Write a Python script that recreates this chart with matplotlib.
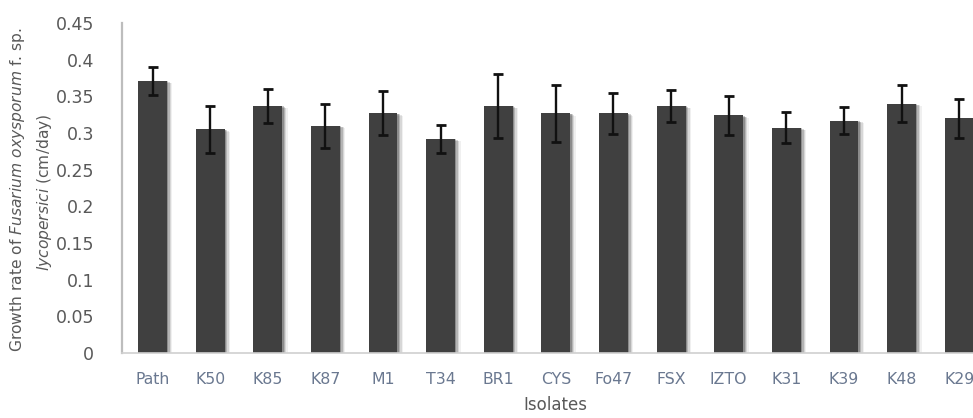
import matplotlib
matplotlib.use("Agg")
import matplotlib.pyplot as plt
import matplotlib.patheffects as pe
import numpy as np

isolates = ["Path", "K50", "K85", "K87", "M1", "T34", "BR1", "CYS",
            "Fo47", "FSX", "IZTO", "K31", "K39", "K48", "K29"]
growth_rate = [0.371, 0.305, 0.337, 0.310, 0.327, 0.292, 0.337, 0.327,
               0.327, 0.337, 0.324, 0.307, 0.317, 0.340, 0.320]
std_err = [0.019, 0.032, 0.023, 0.030, 0.030, 0.019, 0.044, 0.039,
           0.028, 0.022, 0.027, 0.021, 0.018, 0.025, 0.027]
y_ticks = [0, 0.05, 0.1, 0.15, 0.2, 0.25, 0.3, 0.35, 0.4, 0.45]
y_tick_labels = ["0", "0.05", "0.1", "0.15", "0.2", "0.25", "0.3", "0.35", "0.4", "0.45"]

plt.rcParams["font.family"] = ["DejaVu Sans"]
plt.rcParams["mathtext.fontset"] = "dejavusans"

W, H = 973, 418
fig = plt.figure(figsize=(W / 100, H / 100), dpi=100)
# axes runs past the right edge of the canvas, so the last bar is clipped
ax = fig.add_axes([122 / W, 65 / H, 866 / W, 330 / H])

x = np.arange(len(isolates))
shadow = [
    pe.SimplePatchShadow(offset=(4.0, -1.8), shadow_rgbFace="#000000", alpha=0.06),
    pe.SimplePatchShadow(offset=(3.0, -1.3), shadow_rgbFace="#000000", alpha=0.10),
    pe.SimplePatchShadow(offset=(2.0, -0.8), shadow_rgbFace="#000000", alpha=0.16),
    pe.SimplePatchShadow(offset=(1.0, -0.4), shadow_rgbFace="#000000", alpha=0.22),
    pe.Normal(),
]
bars = ax.bar(x, growth_rate, width=0.5, color="#404040", zorder=2)
for b in bars:
    b.set_path_effects(shadow)

ax.errorbar(x, growth_rate, yerr=std_err, fmt="none", ecolor="#111111",
            elinewidth=1.7, capsize=3.6, capthick=2.0, zorder=3)

ax.set_xlim(-0.53, 14.5)
ax.set_ylim(0, 0.45)
ax.set_yticks(y_ticks)
ax.set_yticklabels(y_tick_labels)
ax.set_xticks(x)
ax.set_xticklabels(isolates)
ax.tick_params(axis="both", length=0)
ax.tick_params(axis="y", labelsize=12.5, colors="#595959", pad=20)
ax.tick_params(axis="x", labelsize=11.3, colors="#6a7890", pad=14)

for side in ["top", "right"]:
    ax.spines[side].set_visible(False)
ax.spines["left"].set_color("#bdbdbd")
ax.spines["left"].set_linewidth(1.6)
ax.spines["bottom"].set_color("#d0d0d0")
ax.spines["bottom"].set_linewidth(1.2)

ax.set_xlabel("Isolates", fontsize=12, color="#595959", labelpad=6)

# two-line y axis title with italic organism names
fig.text(18 / W, 1 - 190 / H,
         r"Growth rate of $\mathit{Fusarium\ oxysporum}$ f. sp.",
         rotation=90, ha="center", va="center", fontsize=11.2, color="#595959")
fig.text(45 / W, 1 - 192 / H,
         r"$\mathit{lycopersici}$ (cm/day)",
         rotation=90, ha="center", va="center", fontsize=11.2, color="#595959")

fig.savefig("out.png", dpi=100)
